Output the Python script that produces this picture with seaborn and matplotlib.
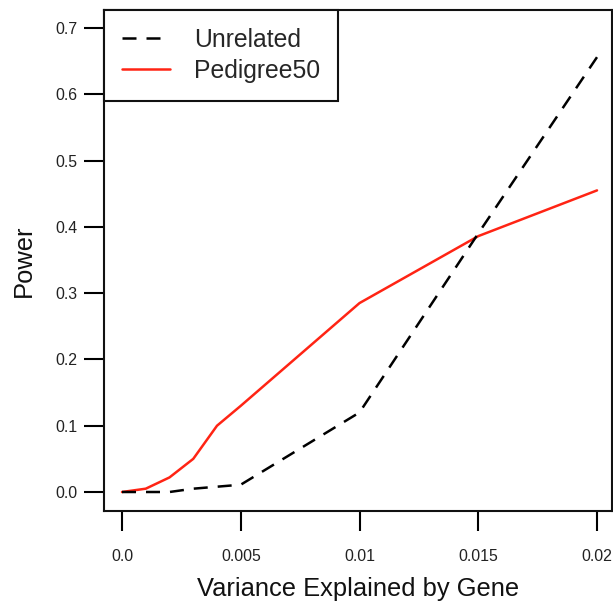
import matplotlib
matplotlib.use("Agg")
import matplotlib.pyplot as plt
from matplotlib.lines import Line2D
import numpy as np
import pandas as pd
import seaborn as sns

# Proportion of variance explained by the gene
variance = [0.0, 0.001, 0.002, 0.003, 0.004, 0.005, 0.01, 0.015, 0.02]
# Estimated power for each sampling design
power_unrelated = [0.0, 0.0, 0.0, 0.005, 0.008, 0.011, 0.12, 0.39, 0.656]
power_pedigree50 = [0.0, 0.005, 0.022, 0.05, 0.10, 0.13, 0.285, 0.386, 0.455]

groups = ["Unrelated", "Pedigree50"]
x_ticks = [0.0, 0.005, 0.01, 0.015, 0.02]
x_tick_labels = ["0.0", "0.005", "0.01", "0.015", "0.02"]
y_ticks = [0.0, 0.1, 0.2, 0.3, 0.4, 0.5, 0.6, 0.7]
y_tick_labels = ["0.0", "0.1", "0.2", "0.3", "0.4", "0.5", "0.6", "0.7"]

df = pd.DataFrame({
    "variance": variance * 2,
    "power": power_unrelated + power_pedigree50,
    "design": ["Unrelated"] * len(variance) + ["Pedigree50"] * len(variance),
})

sns.set_style("white")
plt.rcParams["font.family"] = ["Liberation Sans", "DejaVu Sans"]

colors = {"Unrelated": "black", "Pedigree50": "#ff2414"}
lw = 1.8
dash_pattern = (5.6, 4.0)
dashes = {"Unrelated": dash_pattern, "Pedigree50": ""}

fig = plt.figure(figsize=(6.13, 6.03), dpi=100)
ax = fig.add_axes([104 / 613, 1 - 511 / 603, (612 - 104) / 613, (511 - 10) / 603])

sns.lineplot(data=df, x="variance", y="power", hue="design", style="design",
             hue_order=["Pedigree50", "Unrelated"], style_order=["Pedigree50", "Unrelated"],
             palette=colors, dashes=dashes, linewidth=lw, legend=False, ax=ax)

# axis ranges (box edges a little outside the data range, as in base graphics)
px_x = 475 / 0.02
px_y = 464 / 0.7
ax.set_xlim(-18 / px_x, 0.02 + 15 / px_x)
ax.set_ylim(-19 / px_y, 0.7 + 18 / px_y)

ax.set_xticks(x_ticks)
ax.set_xticklabels(x_tick_labels)
ax.set_yticks(y_ticks)
ax.set_yticklabels(y_tick_labels)
ax.tick_params(axis="x", direction="out", length=14.4, width=1.5, pad=13,
               labelsize=11.4, colors="black", labelcolor="#222222", bottom=True)
ax.tick_params(axis="y", direction="out", length=14.4, width=1.5, pad=5,
               labelsize=11.4, colors="black", labelcolor="#222222", left=True)

for s in ax.spines.values():
    s.set_visible(True)
    s.set_color("#111111")
    s.set_linewidth(1.5)

ax.set_xlabel("Variance Explained by Gene", fontsize=18.4, color="#111111", labelpad=9)
ax.set_ylabel("Power", fontsize=18.4, color="#111111", labelpad=14)

handles = [Line2D([], [], color=colors[g], linewidth=lw,
                  linestyle="--" if dashes[g] else "-") for g in groups]
handles[0].set_dashes(dash_pattern)
leg = ax.legend(handles, groups, loc="upper left", bbox_to_anchor=(0, 1),
                borderaxespad=0, fontsize=17.8, handlelength=1.94, handletextpad=0.97,
                borderpad=0.72, labelspacing=0.28, frameon=True, fancybox=False,
                framealpha=1)
leg.get_frame().set_edgecolor("#111111")
leg.get_frame().set_linewidth(1.5)

fig.savefig("out.png", dpi=100)
